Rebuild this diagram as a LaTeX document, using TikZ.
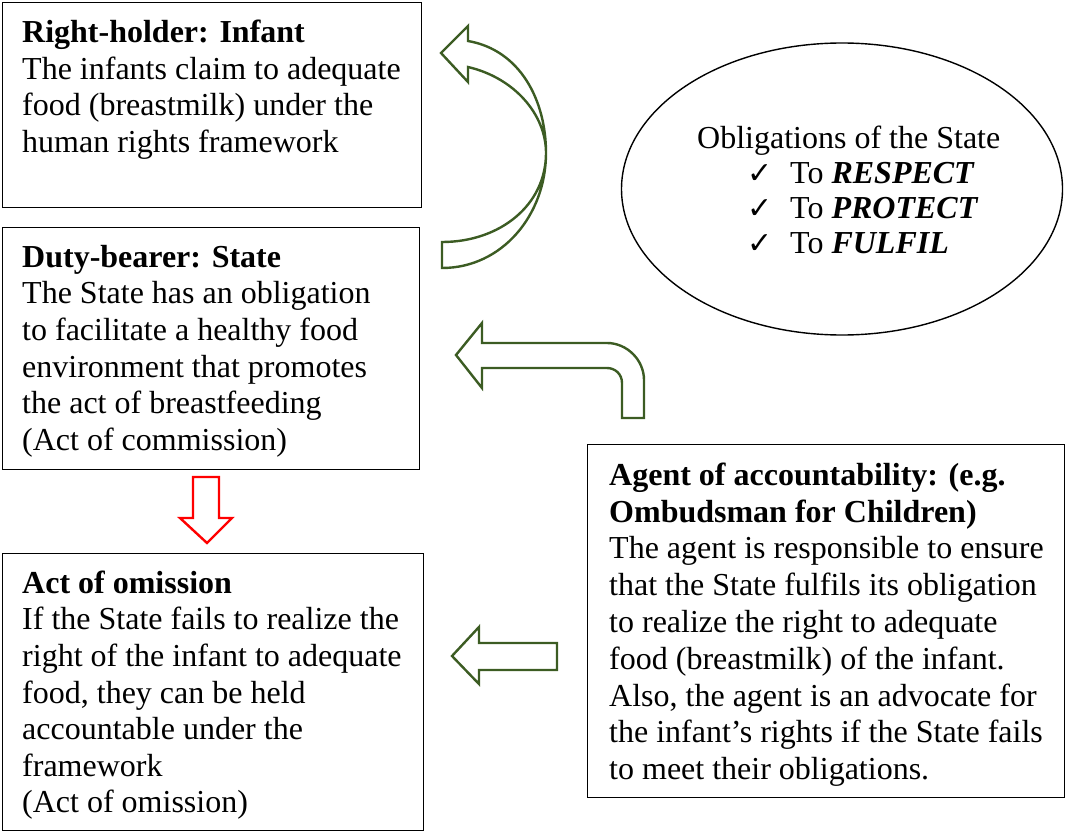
\documentclass[tikz,border=0pt]{standalone}
\usepackage{fontspec}
\setmainfont{Liberation Serif}
\newfontfamily\checkfont{DejaVu Sans}
\usetikzlibrary{shapes.geometric}
\newcommand\topstrut{\rule{0pt}{30pt}}
\newcommand\chk{\makebox[43pt][l]{\checkfont\fontsize{30}{30}\selectfont ✓}}
\definecolor{agreen}{RGB}{60,92,35}
\tikzset{
  box/.style={draw=black, line width=1.4pt, anchor=north west, inner sep=0pt},
  txt/.style={anchor=north west, inner sep=0pt, align=left, font=\fontsize{32}{36.6}\selectfont},
  garrow/.style={draw=agreen, line width=2.4pt, line join=miter},
  rarrow/.style={draw=red, line width=2.4pt, line join=miter}
}
\begin{document}
\begin{tikzpicture}[x=1pt,y=-1pt]
\useasboundingbox (0,0) rectangle (1067,832);
% boxes
\node[box, minimum width=419pt, minimum height=205pt] (rh) at (2,2) {};
\node[box, minimum width=417pt, minimum height=242pt] (db) at (2,227) {};
\node[box, minimum width=421pt, minimum height=277pt] (ao) at (2,553) {};
\node[box, minimum width=477pt, minimum height=353pt] (ag) at (587,444) {};
\node[draw=black, line width=1.4pt, ellipse, minimum width=441pt, minimum height=292pt, inner sep=0pt] (obl) at (842,189) {};
% texts
\node[txt] (rht) at (22,12.5) {\topstrut\textbf{Right-holder: Infant}\\The infants claim to adequate\\food (breastmilk) under the\\human rights framework};
\node[txt] (dbt) at (22,237) {\topstrut\textbf{Duty-bearer: State}\\The State has an obligation\\to facilitate a healthy food\\environment that promotes\\the act of breastfeeding\\(Act of commission)};
\node[txt] (aot) at (22,563) {\topstrut\textbf{Act of omission}\\If the State fails to realize the\\right of the infant to adequate\\food, they can be held\\accountable under the\\framework\\(Act of omission)};
\node[txt, font=\fontsize{32}{36.8}\selectfont] (agt) at (609,455) {\topstrut\textbf{Agent of accountability: (e.g.}\\\textbf{Ombudsman for Children)}\\The agent is responsible to ensure\\that the State fulfils its obligation\\to realize the right to adequate\\food (breastmilk) of the infant.\\Also, the agent is an advocate for\\the infant’s rights if the State fails\\to meet their obligations.};
\node[txt, font=\fontsize{32}{35}\selectfont] (oblt) at (697,118) {\topstrut Obligations of the State\\\hspace*{50pt}\chk To \textbf{\textit{RESPECT}}\\\hspace*{50pt}\chk To \textbf{\textit{PROTECT}}\\\hspace*{50pt}\chk To \textbf{\textit{FULFIL}}};
% curved arrow: duty-bearer -> right-holder
\draw[garrow] (468,41) .. controls (520,50) and (546,100) .. (546,153)
  .. controls (546,215) and (502,268) .. (442,268) -- (442,242)
  .. controls (500,242) and (546,205) .. (546,153)
  .. controls (546,115) and (515,78) .. (468,67)
  -- (468,82) -- (441,53) -- (468,26) -- cycle;
% bent arrow: agent -> duty-bearer
\draw[garrow] (456,355) -- (482,323) -- (482,343) -- (607,343)
  .. controls (627,343) and (644,360) .. (644,380) -- (644,418) -- (622,418) -- (622,383)
  .. controls (622,374) and (615,368) .. (607,368) -- (482,368) -- (482,388) -- cycle;
% left arrow: agent -> act of omission
\draw[garrow] (452,656) -- (479,627) -- (479,643) -- (557,643) -- (557,670) -- (479,670) -- (479,684) -- cycle;
% red down arrow: duty-bearer -> act of omission
\draw[rarrow] (193,477) -- (219,477) -- (219,518) -- (232,518) -- (207,543) -- (180,518) -- (193,518) -- cycle;
\end{tikzpicture}
\end{document}
